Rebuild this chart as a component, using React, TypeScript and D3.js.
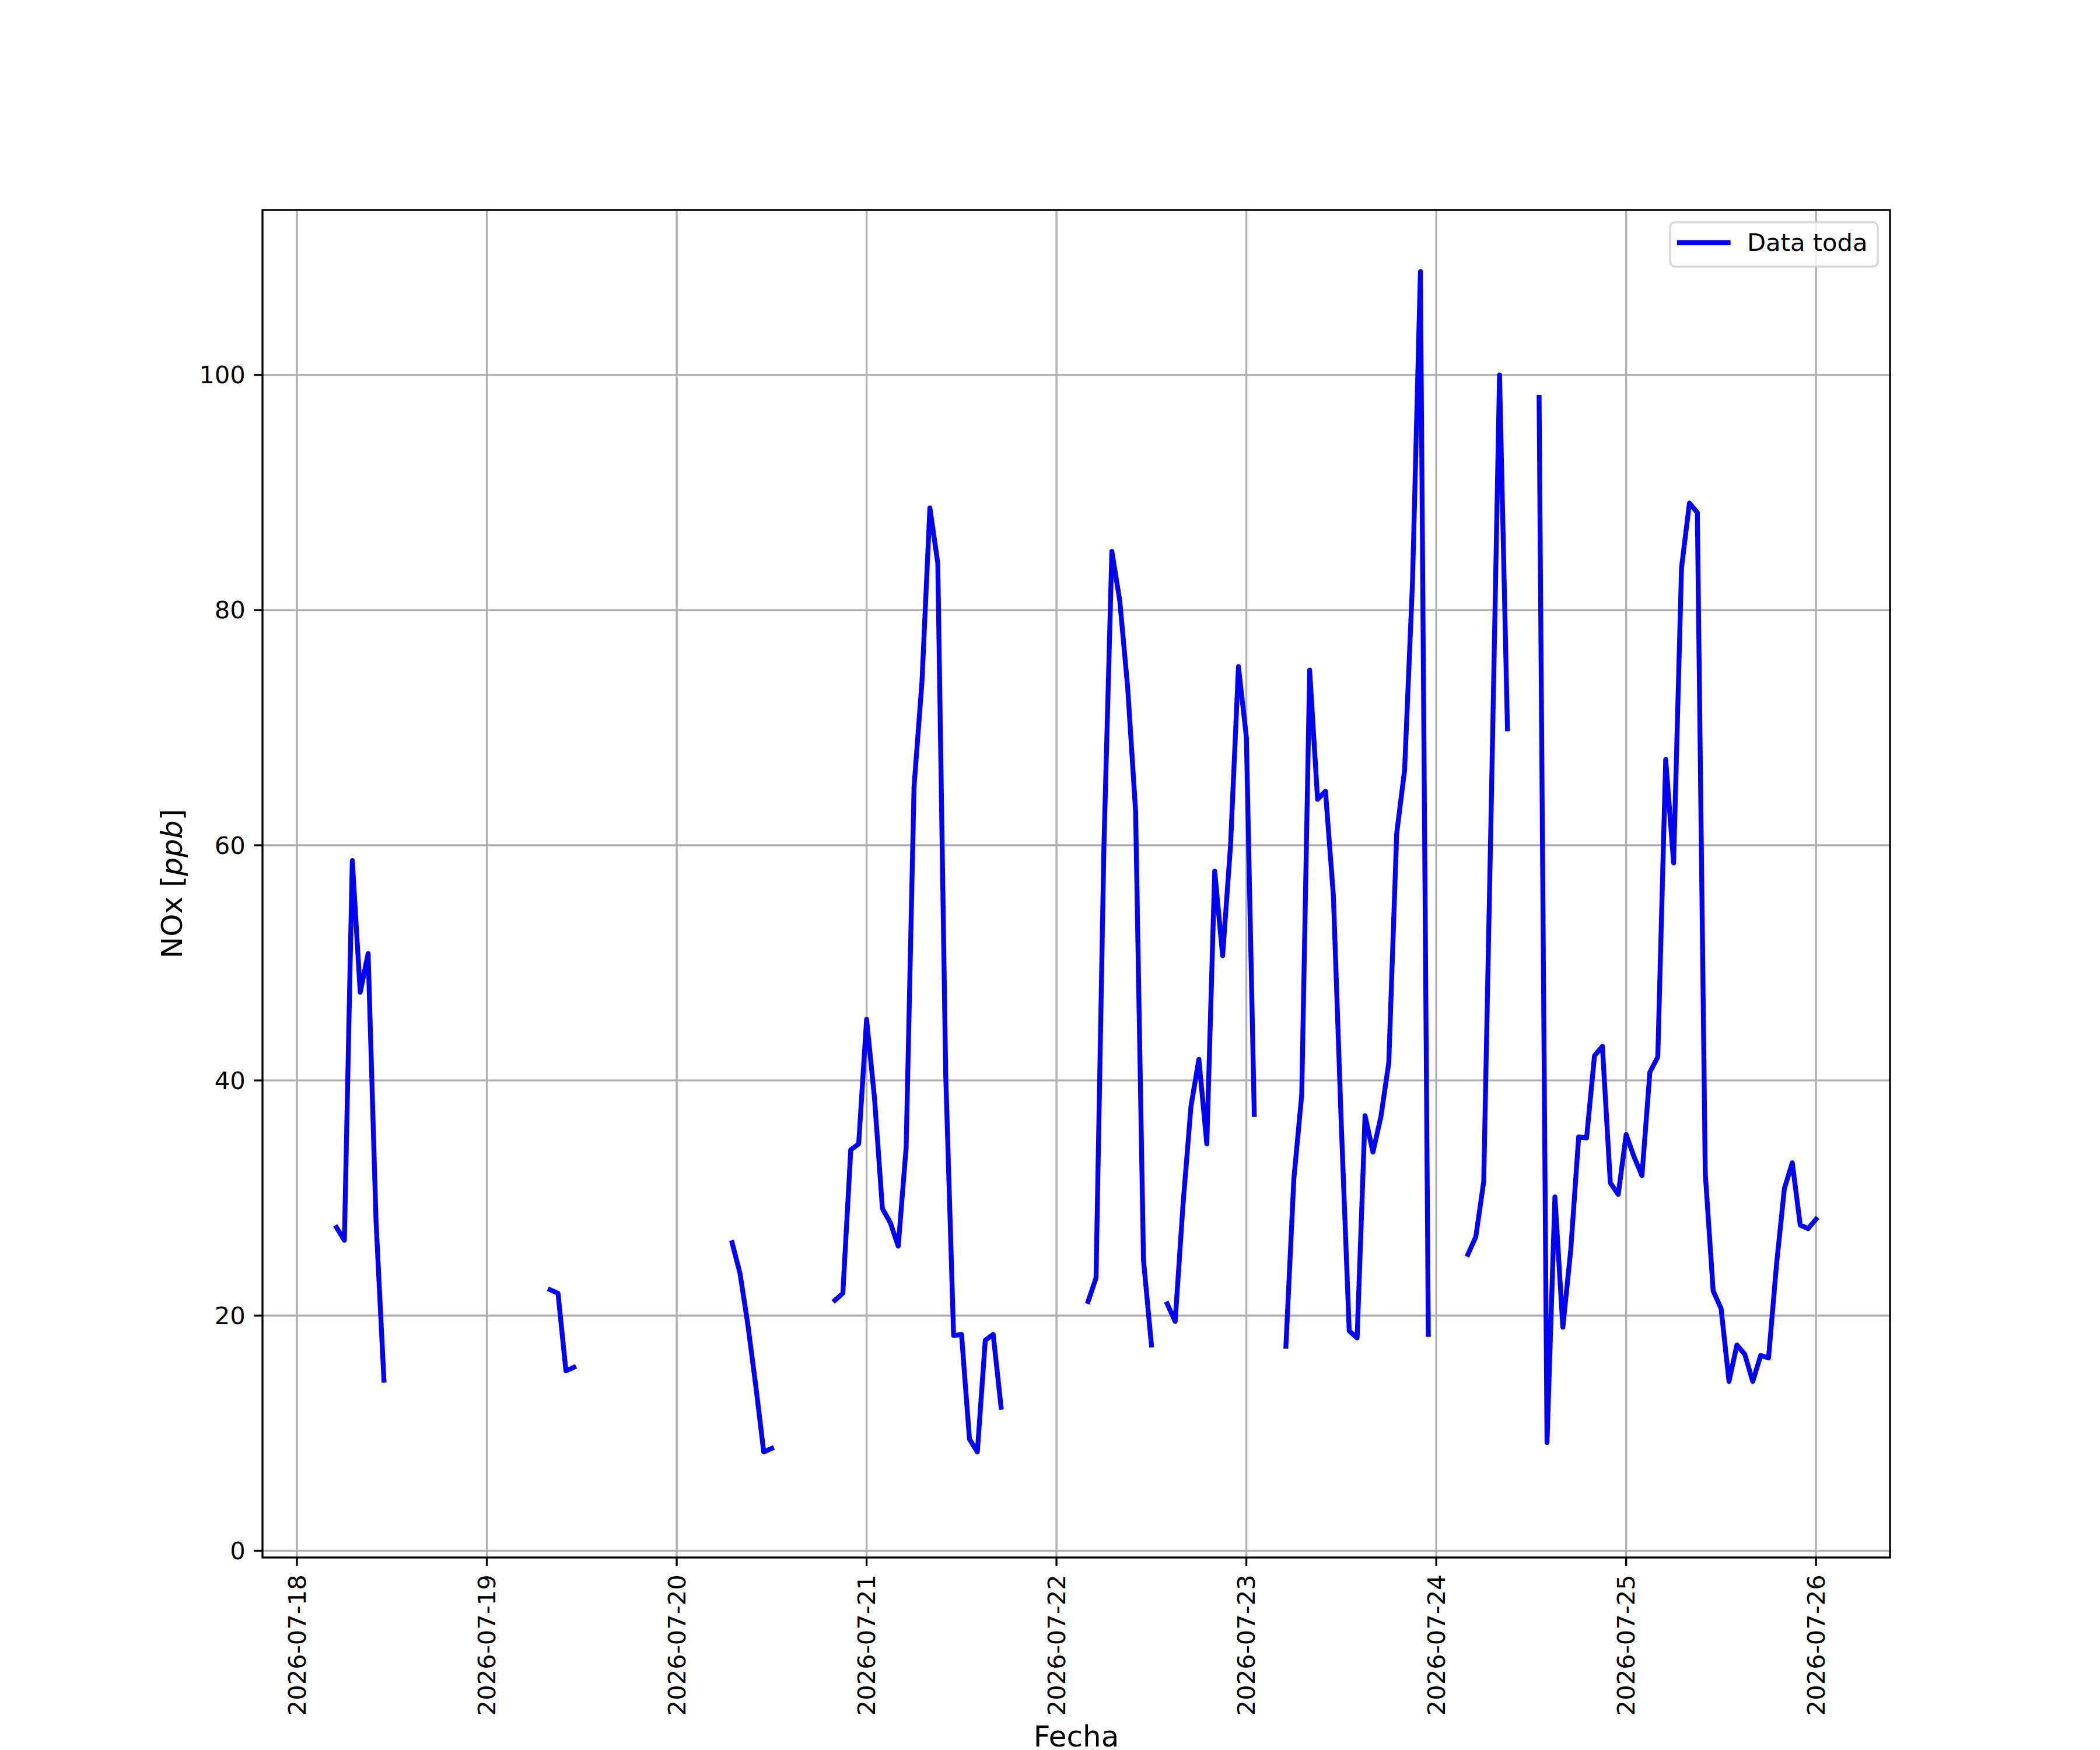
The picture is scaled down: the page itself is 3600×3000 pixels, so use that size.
import React from "react";
import * as d3 from "d3";

// ---------- data ----------
const START_TIME = "2026-07-18T05:00:00Z"; // first hourly sample
const STEP_HOURS = 1;

// NOx [ppb], hourly from START_TIME; null = missing
const NOX_VALUES: (number | null)[] = [
  // 07-18 05h..11h
  27.5, 26.4, 58.7, 47.5, 50.8, 28.0, 14.5,
  // 12h..31h gap
  null, null, null, null, null, null, null, null, null, null,
  null, null, null, null, null, null, null, null, null, null,
  // 32h..35h
  22.2, 21.9, 15.3, 15.6,
  // 36h..54h gap
  null, null, null, null, null, null, null, null, null, null,
  null, null, null, null, null, null, null, null, null,
  // 55h..60h
  26.2, 23.6, 19.2, 14.0, 8.4, 8.7,
  // 61h..67h gap
  null, null, null, null, null, null, null,
  // 68h..89h
  21.3, 21.9, 34.1, 34.6, 45.2, 38.5, 29.1, 27.9, 25.9, 34.3,
  65.0, 73.9, 88.7, 84.0, 40.5, 18.3, 18.4, 9.5, 8.4, 17.9,
  18.4, 12.2,
  // 90h..99h gap
  null, null, null, null, null, null, null, null, null, null,
  // 100h..108h
  21.2, 23.2, 60.0, 85.0, 80.8, 73.4, 62.9, 24.7, 17.5,
  // 109h gap
  null,
  // 110h..121h
  21.0, 19.5, 29.5, 37.8, 41.8, 34.6, 57.8, 50.6, 60.0, 75.2,
  69.2, 37.1,
  // 122h..124h gap
  null, null, null,
  // 125h..143h
  17.4, 31.6, 38.8, 74.9, 63.9, 64.6, 55.7, 36.2, 18.7, 18.1,
  37.0, 33.9, 36.9, 41.5, 61.0, 66.4, 82.4, 108.8, 18.4,
  // 144h..147h gap
  null, null, null, null,
  // 148h..153h
  25.2, 26.7, 31.4, 65.0, 100.0, 69.9,
  // 154h..156h gap
  null, null, null,
  // 157h..192h
  98.1, 9.2, 30.1, 19.0, 25.6, 35.2, 35.1, 42.1, 42.9, 31.3,
  30.3, 35.4, 33.5, 31.9, 40.7, 42.0, 67.3, 58.5, 83.6, 89.1,
  88.3, 32.1, 22.1, 20.6, 14.4, 17.5, 16.7, 14.4, 16.6, 16.4,
  24.3, 30.8, 33.0, 27.7, 27.4, 28.2,
];

const X_TICKS = [
  "2026-07-18", "2026-07-19", "2026-07-20", "2026-07-21", "2026-07-22",
  "2026-07-23", "2026-07-24", "2026-07-25", "2026-07-26",
];
const Y_TICKS = [0, 20, 40, 60, 80, 100];
const Y_DOMAIN = [-0.575, 114.03];
const SERIES_NAME = "Data toda";
const X_LABEL = "Fecha";

// ---------- layout ----------
const W = 3600;
const H = 3000;
const M = { left: 450, right: 3240, top: 360, bottom: 2670 };
const PT = 300 / 72; // px per point
const FONT = "DejaVu Sans, sans-serif";

type Pt = { t: Date; v: number | null };

export default function App() {
  const start = new Date(START_TIME);
  const data: Pt[] = NOX_VALUES.map((v, i) => ({
    t: new Date(start.getTime() + i * STEP_HOURS * 3600 * 1000),
    v,
  }));

  const tMin = data[0].t.getTime();
  const tMax = data[data.length - 1].t.getTime();
  const pad = (tMax - tMin) * 0.05;
  const x = d3
    .scaleUtc()
    .domain([new Date(tMin - pad), new Date(tMax + pad)])
    .range([M.left, M.right]);
  const y = d3.scaleLinear().domain(Y_DOMAIN).range([M.bottom, M.top]);

  const line = d3
    .line<Pt>()
    .defined((d) => d.v !== null)
    .x((d) => x(d.t))
    .y((d) => y(d.v as number));

  const tickLen = 3.5 * PT;
  const tickPad = 3.5 * PT;
  const thin = 0.8 * PT;
  const tickFs = 10 * PT;
  const labelFs = 12 * PT;
  const lw = 2 * PT;

  const xTicks = X_TICKS.map((s) => ({ s, px: x(new Date(s + "T00:00:00Z")) }));

  return (
    <svg
      width={W}
      height={H}
      viewBox={`0 0 ${W} ${H}`}
      style={{ position: "absolute", left: 0, top: 0, background: "#fff" }}
      fontFamily={FONT}
    >
      <rect x={0} y={0} width={W} height={H} fill="#fff" />
      {/* grid */}
      <g stroke="#b0b0b0" strokeWidth={thin} strokeLinecap="square">
        {xTicks.map((t) => (
          <line key={t.s} x1={t.px} x2={t.px} y1={M.top} y2={M.bottom} />
        ))}
        {Y_TICKS.map((v) => (
          <line key={v} x1={M.left} x2={M.right} y1={y(v)} y2={y(v)} />
        ))}
      </g>
      {/* data line */}
      <path
        d={line(data) || ""}
        fill="none"
        stroke="#0000ff"
        strokeWidth={lw}
        strokeLinejoin="round"
        strokeLinecap="square"
      />
      {/* spines */}
      <rect
        x={M.left}
        y={M.top}
        width={M.right - M.left}
        height={M.bottom - M.top}
        fill="none"
        stroke="#000"
        strokeWidth={thin}
        strokeLinejoin="miter"
      />
      {/* x ticks */}
      <g>
        {xTicks.map((t) => (
          <g key={t.s}>
            <line
              x1={t.px}
              x2={t.px}
              y1={M.bottom}
              y2={M.bottom + tickLen}
              stroke="#000"
              strokeWidth={thin}
            />
            <text
              transform={`translate(${t.px},${M.bottom + tickLen + tickPad}) rotate(-90)`}
              textAnchor="end"
              dominantBaseline="central"
              fontSize={tickFs}
              fill="#000"
            >
              {t.s}
            </text>
          </g>
        ))}
      </g>
      {/* y ticks */}
      <g>
        {Y_TICKS.map((v) => (
          <g key={v}>
            <line
              x1={M.left - tickLen}
              x2={M.left}
              y1={y(v)}
              y2={y(v)}
              stroke="#000"
              strokeWidth={thin}
            />
            <text
              x={M.left - tickLen - tickPad}
              y={y(v)}
              textAnchor="end"
              dominantBaseline="central"
              fontSize={tickFs}
              fill="#000"
            >
              {v}
            </text>
          </g>
        ))}
      </g>
      {/* axis labels */}
      <text
        x={(M.left + M.right) / 2}
        y={2994}
        textAnchor="middle"
        fontSize={labelFs}
        fill="#000"
      >
        {X_LABEL}
      </text>
      <text
        transform={`translate(312,${(M.top + M.bottom) / 2}) rotate(-90)`}
        textAnchor="middle"
        fontSize={labelFs}
        fill="#000"
      >
        NOx [<tspan fontStyle="italic">ppb</tspan>]
      </text>
      {/* legend */}
      <g>
        <rect
          x={2863}
          y={381}
          width={356}
          height={76}
          rx={8}
          ry={8}
          fill="#fff"
          fillOpacity={0.8}
          stroke="#cccccc"
          strokeOpacity={0.8}
          strokeWidth={thin}
        />
        <line
          x1={2879}
          x2={2962.5}
          y1={416}
          y2={416}
          stroke="#0000ff"
          strokeWidth={lw}
          strokeLinecap="square"
        />
        <text x={2995} y={430} fontSize={tickFs} fill="#000">
          {SERIES_NAME}
        </text>
      </g>
    </svg>
  );
}
